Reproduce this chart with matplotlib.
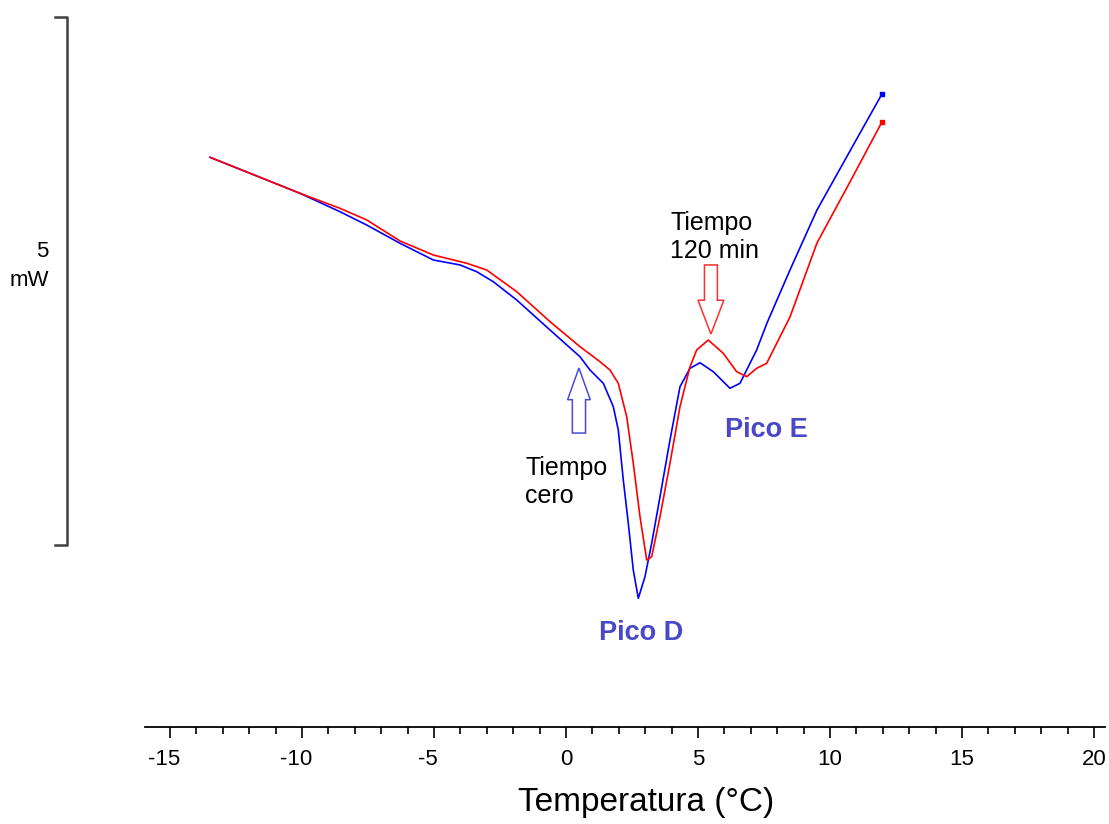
import matplotlib
matplotlib.use("Agg")
import matplotlib.pyplot as plt
from matplotlib.patches import FancyArrow
from matplotlib.ticker import MultipleLocator
from matplotlib.transforms import ScaledTranslation

plt.rcParams['font.family'] = ['Liberation Sans', 'DejaVu Sans']

# temperatura (°C) y flujo de calor (mW, offset arbitrario)
t_cero = [-13.485, -11.970, -10.076, -8.561, -7.549, -6.288, -5.027, -4.015, -3.383,
          -2.754, -1.867, -0.606, 0.530, 0.909, 1.413, 1.792, 1.981, 2.170, 2.360,
          2.549, 2.739, 2.992, 3.246, 3.561, 3.939, 4.318, 4.697, 5.076, 5.580,
          6.212, 6.591, 7.223, 7.614, 8.485, 9.508, 10.758, 11.970]
mw_cero = [3.671, 3.520, 3.330, 3.156, 3.030, 2.857, 2.699, 2.652, 2.588,
           2.493, 2.320, 2.036, 1.783, 1.657, 1.531, 1.310, 1.089, 0.616, 0.205,
           -0.237, -0.505, -0.300, 0.016, 0.457, 0.994, 1.499, 1.673, 1.726, 1.641,
           1.484, 1.531, 1.847, 2.102, 2.604, 3.172, 3.731, 4.271]

t_120 = [-13.485, -11.970, -10.076, -8.561, -7.549, -6.288, -5.027, -3.761, -3.004,
         -1.867, -0.606, 0.530, 1.288, 1.667, 1.981, 2.299, 2.549, 2.803, 3.057,
         3.246, 3.561, 3.939, 4.318, 4.697, 4.951, 5.390, 5.958, 6.466, 6.845,
         7.223, 7.602, 8.485, 9.508, 10.758, 11.970]
mw_120 = [3.671, 3.520, 3.330, 3.188, 3.078, 2.879, 2.746, 2.668, 2.604,
          2.399, 2.115, 1.878, 1.736, 1.657, 1.531, 1.215, 0.774, 0.268, -0.142,
          -0.111, 0.268, 0.774, 1.310, 1.688, 1.847, 1.941, 1.815, 1.641, 1.594,
          1.673, 1.721, 2.159, 2.860, 3.438, 4.006]

xticks = [-15, -10, -5, 0, 5, 10, 15, 20]

fig = plt.figure(figsize=(11.09, 8.24), dpi=100)
ax = fig.add_axes([145/1109, 97/824, 960/1109, 727/824])

ax.plot(t_cero, mw_cero, color='#0000ff', lw=1.2)
ax.plot(t_120, mw_120, color='#ff0000', lw=1.2)
ax.plot(t_cero[-1], mw_cero[-1], 's', color='#0000ff', ms=2.5)
ax.plot(t_120[-1], mw_120[-1], 's', color='#ff0000', ms=2.5)

ax.set_xlim(-15.95, 20.42)
ax.set_ylim(-1.7235, 5.161)

for s in ['top', 'left', 'right']:
    ax.spines[s].set_visible(False)
ax.spines['bottom'].set_linewidth(1.3)
ax.set_yticks([])
ax.set_xticks(xticks)
ax.set_xticklabels([str(v) for v in xticks])
ax.xaxis.set_minor_locator(MultipleLocator(1))
ax.tick_params(axis='x', which='major', length=8, width=1.2, pad=8, labelsize=16)
ax.tick_params(axis='x', which='minor', length=5, width=1.2)
# las etiquetas negativas van algo desplazadas a la izquierda
for lab in ax.get_xticklabels():
    if lab.get_text().startswith('-'):
        lab.set_transform(lab.get_transform() +
                          ScaledTranslation(-6/100, 0, fig.dpi_scale_trans))

ax.set_xlabel('Temperatura (°C)', fontsize=24)
ax.xaxis.label.set_va('center')
ax.xaxis.set_label_coords(0.522, -0.104)

# barra de escala 5 mW
ax.plot([-19.36, -18.90, -18.90, -19.36], [5, 5, 0, 0], color='#404040', lw=1.8,
        clip_on=False)
ax.text(-19.6, 2.775, '5', ha='right', va='center', fontsize=16)
ax.text(-19.58, 2.509, 'mW', ha='right', va='center', fontsize=16)

# flechas
ax.add_patch(FancyArrow(0.49, 1.06, 0, 0.616, width=0.5, head_width=0.86,
                        head_length=0.30, length_includes_head=True,
                        fc='white', ec='#4a4ad8', lw=1.1))
ax.add_patch(FancyArrow(5.49, 2.652, 0, -0.654, width=0.49, head_width=0.98,
                        head_length=0.32, length_includes_head=True,
                        fc='white', ec='#ff3030', lw=1.1))

ax.text(-1.55, 0.597, 'Tiempo\ncero', ha='left', va='center', fontsize=18,
        linespacing=1.2)
ax.text(3.95, 2.917, 'Tiempo\n120 min', ha='left', va='center', fontsize=18,
        linespacing=1.2)
ax.text(2.85, -0.833, 'Pico D', ha='center', va='center', fontsize=19.5,
        fontweight='bold', color='#4848c8')
ax.text(7.6, 1.089, 'Pico E', ha='center', va='center', fontsize=19.5,
        fontweight='bold', color='#4848c8')

fig.savefig('out.png', dpi=100)
